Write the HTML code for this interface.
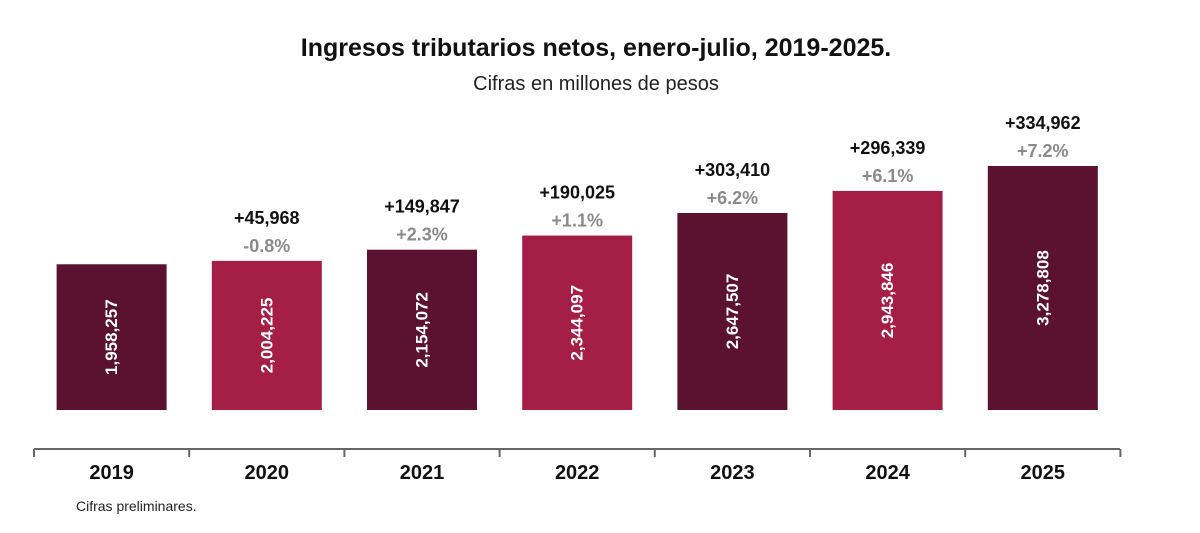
<!DOCTYPE html>
<html><head><meta charset="utf-8"><style>
body{margin:0;background:#fff;width:1200px;height:528px;overflow:hidden;font-family:"Liberation Sans",sans-serif}
</style></head><body>
<svg id="chart" width="1200" height="528" xmlns="http://www.w3.org/2000/svg">
<text x="596" y="56" text-anchor="middle" font-size="25" font-weight="bold" fill="#111">Ingresos tributarios netos, enero-julio, 2019-2025.</text>
<text x="596" y="90" text-anchor="middle" font-size="20" fill="#222">Cifras en millones de pesos</text>
<line x1="34" y1="449" x2="1120" y2="449" stroke="#666" stroke-width="2"/>
<text x="76" y="511" font-size="14" fill="#222">Cifras preliminares.</text>
<g id="marks"></g>
</svg>
<script>
const years = ["2019","2020","2021","2022","2023","2024","2025"];
const values = [1958257,2004225,2154072,2344097,2647507,2943846,3278808];
const valueLabels = ["1,958,257","2,004,225","2,154,072","2,344,097","2,647,507","2,943,846","3,278,808"];
const diffLabels = ["","+45,968","+149,847","+190,025","+303,410","+296,339","+334,962"];
const pctLabels = ["","-0.8%","+2.3%","+1.1%","+6.2%","+6.1%","+7.2%"];
const colors = ["#5a1230","#a51e45"];
const NS="http://www.w3.org/2000/svg";
const g=document.getElementById('marks');
const x0=34, step=155.2, barW=110, base=410, pxPer=244/3278808;
const xc=i=>x0+step*(i+0.5);
const y=v=>base-v*pxPer;
function mk(t,a){const e=document.createElementNS(NS,t);for(const k in a)e.setAttribute(k,a[k]);g.appendChild(e);return e;}
for(let i=0;i<=years.length;i++){
  const t=mk('line',{x1:x0+step*i,y1:449,x2:x0+step*i,y2:457,stroke:'#666','stroke-width':2});
  
  
}
years.forEach((yr,i)=>{
  const top=y(values[i]);
  const r=mk('rect',{x:xc(i)-barW/2,y:top,width:barW,height:base-top,fill:colors[i%2]});
  
  
  const my=(top+base)/2;
  const v=mk('text',{x:xc(i),y:my,transform:`rotate(-90 ${xc(i)} ${my})`,'text-anchor':'middle','dominant-baseline':'central','font-size':17,'font-weight':'bold',fill:'#fff'});
  v.textContent=valueLabels[i];
  
  
  const xl=mk('text',{x:xc(i),y:479,'text-anchor':'middle','font-size':20,'font-weight':'bold',fill:'#111'});
  xl.textContent=yr;
  
  
  if(diffLabels[i]){
    const d=mk('text',{x:xc(i),y:top-37,'text-anchor':'middle','font-size':18,'font-weight':'bold',fill:'#111'});
    d.textContent=diffLabels[i];
    
    
    const p=mk('text',{x:xc(i),y:top-9,'text-anchor':'middle','font-size':18,'font-weight':'bold',fill:'#8a8a8a'});
    p.textContent=pctLabels[i];
    
    
  }
});
</script>
</body></html>
